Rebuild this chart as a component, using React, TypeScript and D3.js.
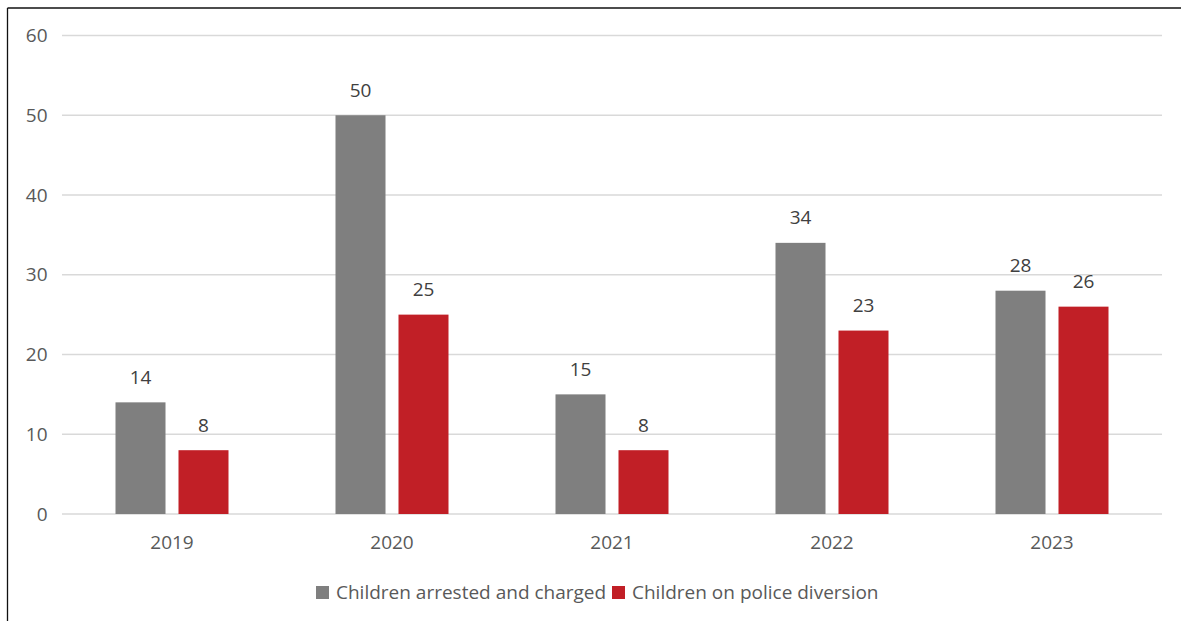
import React from "react";
import * as d3 from "d3";

const years = ["2019", "2020", "2021", "2022", "2023"];
const arrested = [14, 50, 15, 34, 28];
const diversion = [8, 25, 8, 23, 26];
const seriesNames = ["Children arrested and charged", "Children on police diversion"];
const seriesColors = ["#7f7f7f", "#c11f26"];
const yTicks = [0, 10, 20, 30, 40, 50, 60];

const W = 1181;
const H = 621;
const FONT = "'Open Sans', sans-serif";
const TEXT = "#595959";

export default function App() {
  const x = d3.scaleBand<string>().domain(years).range([62, 1162]).padding(0);
  const y = d3.scaleLinear().domain([0, 60]).range([514, 35.5]);
  const barW = 50;
  const gap = 13;
  const series = [arrested, diversion];

  return (
    <div style={{ position: "fixed", left: 0, top: 0 }}>
      <svg width={W} height={H} style={{ display: "block", background: "#fff" }}>
        <rect x={0} y={0} width={W} height={H} fill="#fff" />
        {/* border */}
        <line x1={7.5} x2={7.5} y1={8} y2={H} stroke="#111" strokeWidth={1.3} />
        <line x1={7.5} x2={W} y1={8} y2={8} stroke="#111" strokeWidth={1.3} />
        {/* grid */}
        {yTicks.map((t) => (
          <g key={t}>
            <line x1={62} x2={1162} y1={y(t)} y2={y(t)} stroke="#d9d9d9" strokeWidth={1.3} />
            <text x={47.5} y={y(t)} dy="0.35em" textAnchor="end" fontFamily={FONT} fontSize={19} fill={TEXT}>
              {t}
            </text>
          </g>
        ))}
        {/* bars */}
        {years.map((yr, i) => {
          const cx = (x(yr) as number) + x.bandwidth() / 2;
          return (
            <g key={yr}>
              {series.map((s, j) => {
                const bx = j === 0 ? cx - gap / 2 - barW : cx + gap / 2;
                const top = y(s[i]);
                return (
                  <g key={j}>
                    <rect x={bx} y={top} width={barW} height={y(0) - top} fill={seriesColors[j]} />
                    <text x={bx + barW / 2} y={top - 18.5} textAnchor="middle" fontFamily={FONT} fontSize={19} fill="#404040">
                      {s[i]}
                    </text>
                  </g>
                );
              })}
              <text x={cx} y={549} textAnchor="middle" fontFamily={FONT} fontSize={19} fill={TEXT}>
                {yr}
              </text>
            </g>
          );
        })}
        {/* legend */}
        <g>
          <rect x={316} y={586} width={13} height={13} fill={seriesColors[0]} />
          <text x={336} y={599} fontFamily={FONT} fontSize={19} fill={TEXT}>{seriesNames[0]}</text>
          <rect x={612} y={586} width={13} height={13} fill={seriesColors[1]} />
          <text x={632} y={599} fontFamily={FONT} fontSize={19} fill={TEXT}>{seriesNames[1]}</text>
        </g>
      </svg>
    </div>
  );
}
